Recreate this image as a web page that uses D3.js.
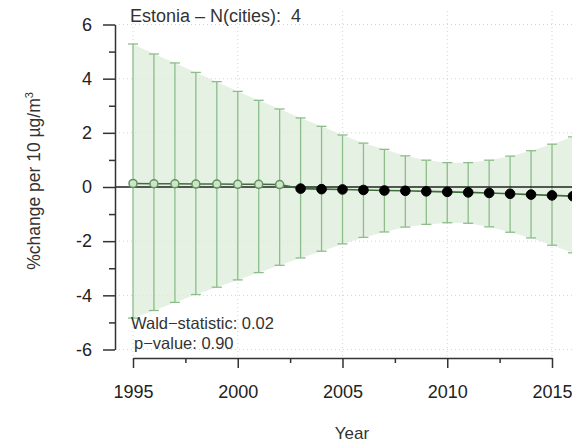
<!DOCTYPE html>
<html>
<head>
<meta charset="utf-8">
<script src="https://cdn.jsdelivr.net/npm/d3@7"></script>
<style>
  html, body { margin: 0; padding: 0; background: #fff; }
  svg { display: block; font-family: "Liberation Sans", Arial, sans-serif; }
</style>
</head>
<body>
<svg id="chart" width="572" height="444"></svg>
<script>
// ---- data ----
const years = [1995,1996,1997,1998,1999,2000,2001,2002,2003,2004,2005,2006,2007,2008,2009,2010,2011,2012,2013,2014,2015,2016];
const estimate = [0.13,0.12,0.12,0.11,0.11,0.10,0.10,0.09,-0.06,-0.08,-0.09,-0.11,-0.13,-0.14,-0.16,-0.18,-0.20,-0.22,-0.25,-0.28,-0.31,-0.34];
const upper = [5.28,4.91,4.58,4.23,3.89,3.53,3.20,2.88,2.55,2.24,1.92,1.62,1.39,1.15,0.99,0.90,0.90,0.99,1.14,1.34,1.58,1.85];
const lower = [-4.84,-4.56,-4.26,-3.97,-3.70,-3.43,-3.16,-2.89,-2.62,-2.37,-2.10,-1.86,-1.66,-1.48,-1.38,-1.32,-1.34,-1.47,-1.67,-1.88,-2.15,-2.43];
const hollowUntil = 2002; // open symbols for years up to this
const yTicks = [-6,-4,-2,0,2,4,6];
const yMinorTicks = [-5,-3,-1,1,3,5];
const xTicks = [1995,2000,2005,2010,2015];
const xMinorTicks = [1997.5,2002.5,2007.5,2012.5];
const title = "Estonia \u2013 N(cities):  4";
const waldText = "Wald\u2212statistic: 0.02";
const pText = "p\u2212value: 0.90";
const xLabel = "Year";

// ---- layout ----
const svg = d3.select("#chart");
const x = d3.scaleLinear().domain([1995, 2015]).range([133, 552]);
const y = d3.scaleLinear().domain([-6, 6]).range([349.5, 24.5]);
const plotLeft = 115, plotRight = 590, plotTop = 11, plotBottom = 362;
const fontSize = 18;

const rows = years.map((yr, i) => ({yr, est: estimate[i], lo: lower[i], hi: upper[i]}));

// grid (dotted)
const grid = svg.append("g").attr("stroke", "#d4d4d4").attr("stroke-width", 1).attr("stroke-dasharray", "1,3");
grid.selectAll("line.h").data(yTicks).join("line")
  .attr("x1", plotLeft).attr("x2", plotRight)
  .attr("y1", d => y(d)).attr("y2", d => y(d));
grid.selectAll("line.v").data(xTicks).join("line")
  .attr("y1", plotTop).attr("y2", plotBottom)
  .attr("x1", d => x(d)).attr("x2", d => x(d));

// band
const area = d3.area().x(d => x(d.yr)).y0(d => y(d.lo)).y1(d => y(d.hi));
svg.append("path").datum(rows).attr("d", area)
  .attr("fill", "#dcecd9").attr("fill-opacity", 0.75);

// error bars
const eb = svg.append("g").attr("stroke", "#8dbd8a").attr("stroke-width", 1.3);
eb.selectAll("line.v").data(rows).join("line")
  .attr("x1", d => x(d.yr)).attr("x2", d => x(d.yr))
  .attr("y1", d => y(d.lo)).attr("y2", d => y(d.hi));
eb.selectAll("line.capHi").data(rows).join("line")
  .attr("x1", d => x(d.yr) - 5).attr("x2", d => x(d.yr) + 5)
  .attr("y1", d => y(d.hi)).attr("y2", d => y(d.hi));
eb.selectAll("line.capLo").data(rows).join("line")
  .attr("x1", d => x(d.yr) - 5).attr("x2", d => x(d.yr) + 5)
  .attr("y1", d => y(d.lo)).attr("y2", d => y(d.lo));

// zero line
svg.append("line")
  .attr("x1", plotLeft).attr("x2", plotRight)
  .attr("y1", y(0)).attr("y2", y(0))
  .attr("stroke", "#222").attr("stroke-width", 1.4);

// estimate line
svg.append("path").datum(rows)
  .attr("d", d3.line().x(d => x(d.yr)).y(d => y(d.est)))
  .attr("fill", "none").attr("stroke", "#3f6e3c").attr("stroke-width", 1.6);

// points
svg.selectAll("circle.pt").data(rows).join("circle")
  .attr("cx", d => x(d.yr)).attr("cy", d => y(d.est))
  .attr("r", d => d.yr <= hollowUntil ? 4 : 4.8)
  .attr("fill", d => d.yr <= hollowUntil ? "#cfe4ca" : "#000")
  .attr("stroke", d => d.yr <= hollowUntil ? "#5f935b" : "#000")
  .attr("stroke-width", d => d.yr <= hollowUntil ? 1.5 : 1);

// axes
const axColor = "#333";
const yAxis = svg.append("g").attr("transform", `translate(${plotLeft},0)`)
  .call(d3.axisLeft(y).tickValues(yTicks).tickSize(12).tickSizeOuter(0).tickPadding(11).tickFormat(d => String(d)));
yAxis.selectAll(".tick text").attr("font-size", fontSize).attr("fill", "#222").attr("font-family", "Liberation Sans, Arial, sans-serif");
const yMinor = svg.append("g").attr("transform", `translate(${plotLeft},0)`)
  .call(d3.axisLeft(y).tickValues(yMinorTicks).tickSize(6).tickFormat(""));
yMinor.select(".domain").remove();

const xAxis = svg.append("g").attr("transform", "translate(0,358)")
  .call(d3.axisBottom(x).tickValues(xTicks).tickSize(10).tickSizeOuter(0).tickPadding(17).tickFormat(d3.format("d")));
xAxis.selectAll(".tick text").attr("font-size", fontSize).attr("fill", "#222").attr("font-family", "Liberation Sans, Arial, sans-serif");
const xMinor = svg.append("g").attr("transform", "translate(0,358)")
  .call(d3.axisBottom(x).tickValues(xMinorTicks).tickSize(5).tickFormat(""));
xMinor.select(".domain").remove();

[yAxis, yMinor, xAxis, xMinor].forEach(g => {
  g.selectAll(".domain").attr("stroke", axColor).attr("stroke-width", 1.5);
  g.selectAll(".tick line").attr("stroke", axColor).attr("stroke-width", 1.5);
});

// texts
svg.append("text").attr("x", 130).attr("y", 22).attr("font-size", fontSize).attr("fill", "#333")
  .style("white-space", "pre").text(title);
svg.append("text").attr("x", 131).attr("y", 329).attr("font-size", 16.5).attr("fill", "#333").text(waldText);
svg.append("text").attr("x", 134).attr("y", 349).attr("font-size", 16.5).attr("fill", "#333").text(pText);
svg.append("text").attr("x", 352).attr("y", 439).attr("text-anchor", "middle").attr("font-size", fontSize - 1).attr("fill", "#333").text(xLabel);

const yl = svg.append("text").attr("transform", "translate(40,181) rotate(-90)")
  .attr("text-anchor", "middle").attr("font-size", 17.5).attr("fill", "#333");
yl.append("tspan").text("%change per 10 \u00b5g/m");
yl.append("tspan").attr("font-size", 11).attr("dy", -7).text("3");
</script>
</body>
</html>
